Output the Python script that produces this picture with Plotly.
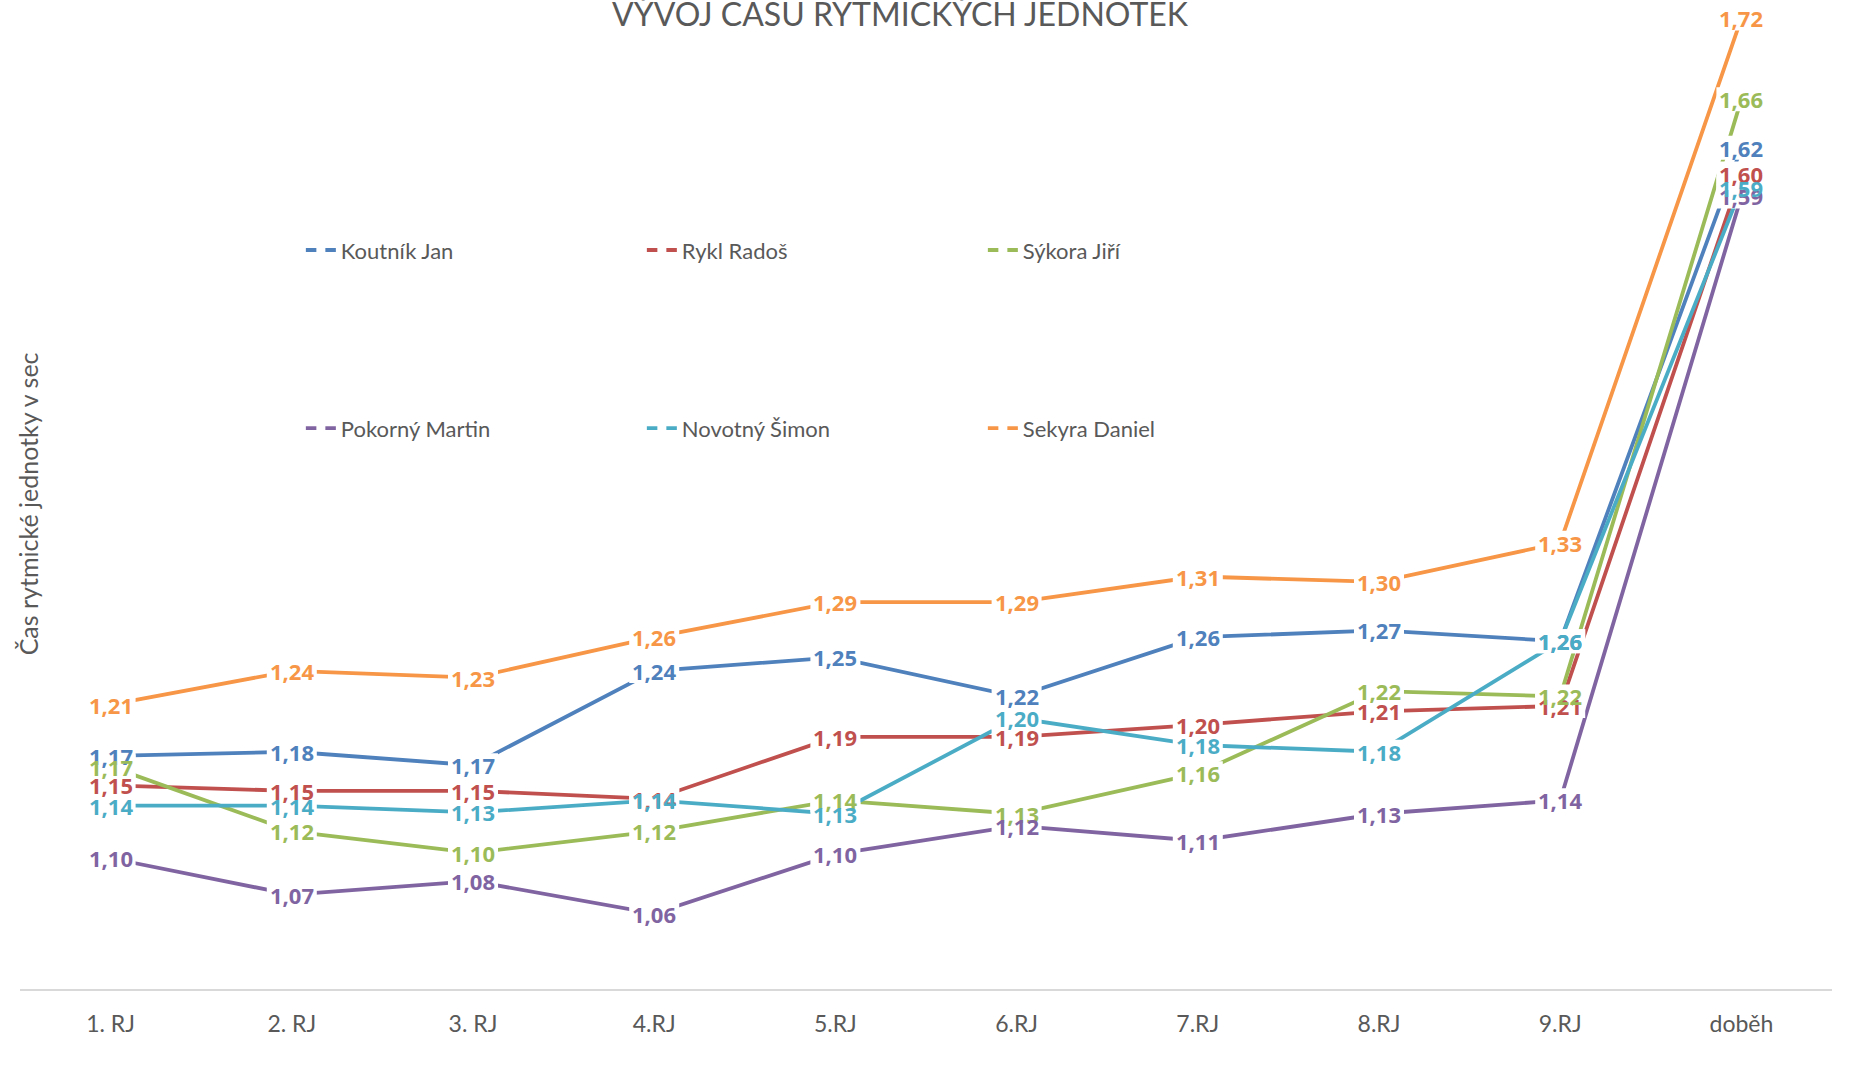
import plotly.graph_objects as go

# categories (rhythmic units)
categories = ["1. RJ", "2. RJ", "3. RJ", "4.RJ", "5.RJ", "6.RJ", "7.RJ", "8.RJ", "9.RJ", "doběh"]

# times per runner (sec)
koutnik = [1.173, 1.176, 1.166, 1.236, 1.246, 1.217, 1.261, 1.266, 1.258, 1.624]
rykl = [1.151, 1.147, 1.147, 1.141, 1.187, 1.187, 1.196, 1.206, 1.210, 1.6049]
sykora = [1.165, 1.117, 1.101, 1.117, 1.140, 1.130, 1.160, 1.221, 1.217, 1.66]
pokorny = [1.097, 1.070, 1.080, 1.056, 1.100, 1.121, 1.110, 1.130, 1.140, 1.588]
novotny = [1.136, 1.136, 1.131, 1.140, 1.130, 1.201, 1.181, 1.176, 1.258, 1.594]
sekyra = [1.211, 1.236, 1.231, 1.261, 1.287, 1.287, 1.306, 1.302, 1.331, 1.72]

names = ["Koutník Jan", "Rykl Radoš", "Sýkora Jiří", "Pokorný Martin", "Novotný Šimon", "Sekyra Daniel"]
series = [koutnik, rykl, sykora, pokorny, novotny, sekyra]
colors = ["#4F81BD", "#C0504D", "#9BBB59", "#8064A2", "#4BACC6", "#F79646"]

FONT = "Lato, 'Open Sans', sans-serif"
LABEL_FONT = "'Open Sans', Lato, sans-serif"
GREY = "#595959"

fig = go.Figure()

for i, (name, vals, col) in enumerate(zip(names, series, colors)):
    fig.add_trace(go.Scatter(
        x=categories, y=vals, name=name,
        mode="lines+markers",
        line=dict(color=col, width=3.8),
        marker=dict(color="white", size=9, symbol="square", line=dict(width=0)),
        legend="legend" if i < 3 else "legend2",
        hoverinfo="skip",
    ))

# data labels: tight white boxes hide the lines, text on top
shapes = []
annotations = []
for vals, col in zip(series, colors):
    for c, v in zip(categories, vals):
        shapes.append(dict(
            type="rect", xref="x", yref="y", layer="above",
            xsizemode="pixel", ysizemode="pixel", xanchor=c, yanchor=v,
            x0=-25, x1=25, y0=-12, y1=12,
            fillcolor="white", line=dict(width=0),
        ))
        annotations.append(dict(
            x=c, y=v, xref="x", yref="y",
            text=f"{v:.2f}".replace(".", ","),
            showarrow=False,
            font=dict(family=LABEL_FONT, size=22, color=col, weight="bold"),
        ))

# title (cut at the top as in the reference)
annotations.append(dict(
    text="VÝVOJ ČASU RYTMICKÝCH JEDNOTEK", xref="paper", yref="paper",
    x=0.486, y=0.986, xanchor="center", yanchor="middle", showarrow=False,
    font=dict(family=FONT, size=32, color=GREY),
))

# y axis title
annotations.append(dict(
    text="Čas rytmické jednotky v sec", xref="paper", yref="paper",
    x=0.0044, y=0.491, xanchor="center", yanchor="middle", textangle=-90,
    showarrow=False, font=dict(family=FONT, size=25, color=GREY),
))

legend_common = dict(
    orientation="h", xref="paper", yref="paper", xanchor="left", yanchor="middle",
    entrywidth=296, entrywidthmode="pixels", bgcolor="rgba(0,0,0,0)",
    font=dict(family=FONT, size=22, color=GREY), itemclick=False, itemdoubleclick=False,
)

fig.update_layout(
    width=1856, height=1073,
    margin=dict(l=20, r=24, t=0, b=84),
    paper_bgcolor="white", plot_bgcolor="white",
    shapes=shapes,
    annotations=annotations,
    showlegend=True,
    legend=dict(x=0.155, y=0.747, **legend_common),
    legend2=dict(x=0.155, y=0.567, **legend_common),
    xaxis=dict(
        type="category", range=[-0.5, 9.5], showgrid=False, zeroline=False,
        showline=True, linecolor="#D9D9D9", linewidth=2, ticks="",
        tickfont=dict(family=FONT, size=23, color=GREY), ticklabelstandoff=13,
    ),
    yaxis=dict(
        range=[1.0, 1.7337], showgrid=False, zeroline=False, showline=False,
        showticklabels=False, ticks="",
    ),
    hovermode=False,
)

fig.write_html("out.html", config={"displayModeBar": False},
               post_script="document.body.style.margin='0';")
